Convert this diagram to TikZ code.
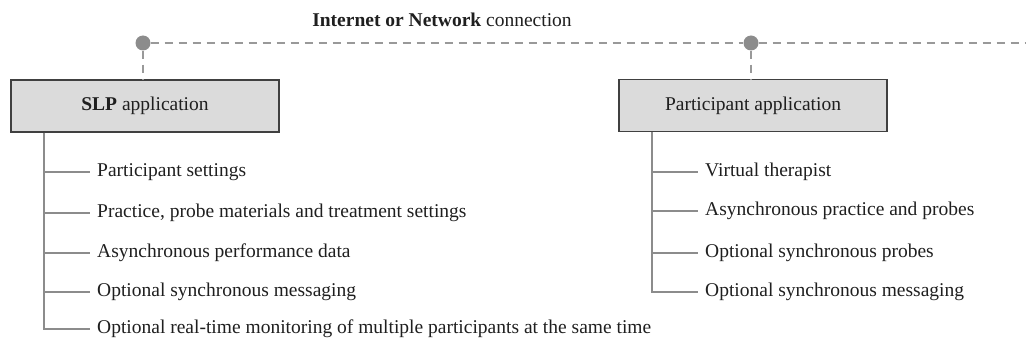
\documentclass[tikz,border=0pt]{standalone}
\usepackage{fontspec}
\setmainfont{Liberation Serif}
\begin{document}
\begin{tikzpicture}[x=1pt,y=-1pt,
  appbox/.style={draw=black!75,line width=1.1pt,fill=black!14,minimum width=268pt,minimum height=52pt,inner sep=0pt,font=\fontsize{19.5}{23}\selectfont,text=black!88},
  item/.style={anchor=west,inner sep=0pt,font=\fontsize{19.5}{23}\selectfont,text=black!88},
  tree/.style={draw=black!45,line width=1.2pt},
  net/.style={draw=black!40,line width=1.2pt,dash pattern=on 8pt off 6pt},
  dotst/.style={circle,fill=black!45,inner sep=0pt,minimum size=15pt}]
\useasboundingbox (0,0) rectangle (1026,342);
\node[font=\fontsize{19.5}{23}\selectfont,text=black!88] (title) at (442,20) {\textbf{Internet or Network} connection};
\coordinate (netend) at (1026,43);
\node[appbox] (slp) at (145,106) {\textbf{SLP} application};
\node[appbox] (par) at (753,105.5) {Participant application};
\node[dotst] (d1) at (143,43) {};
\node[dotst] (d2) at (751,43) {};
\draw[net] (d1) -- (d2);
\draw[net] (d2) -- (netend);
\draw[net] (d1) -- (d1 |- slp.north);
\draw[net] (d2) -- (d2 |- par.north);
% SLP items
\node[item] (s1) at (97,172) {Participant settings};
\node[item] (s2) at (97,213) {Practice, probe materials and treatment settings};
\node[item] (s3) at (97,253) {Asynchronous performance data};
\node[item] (s4) at (97,292) {Optional synchronous messaging};
\node[item] (s5) at (97,329) {Optional real-time monitoring of multiple participants at the same time};
\coordinate (sb) at (44,0);
\draw[tree] (sb |- slp.south) -- (sb |- s5.west) -- ([xshift=-7pt]s5.west);
\foreach \n in {s1,s2,s3,s4} \draw[tree] (sb |- \n.west) -- ([xshift=-7pt]\n.west);
% Participant items
\node[item] (p1) at (705,172) {Virtual therapist};
\node[item] (p2) at (705,211) {Asynchronous practice and probes};
\node[item] (p3) at (705,253) {Optional synchronous probes};
\node[item] (p4) at (705,292) {Optional synchronous messaging};
\coordinate (pb) at (652,0);
\draw[tree] (pb |- par.south) -- (pb |- p4.west) -- ([xshift=-7pt]p4.west);
\foreach \n in {p1,p2,p3} \draw[tree] (pb |- \n.west) -- ([xshift=-7pt]\n.west);
\end{tikzpicture}
\end{document}
